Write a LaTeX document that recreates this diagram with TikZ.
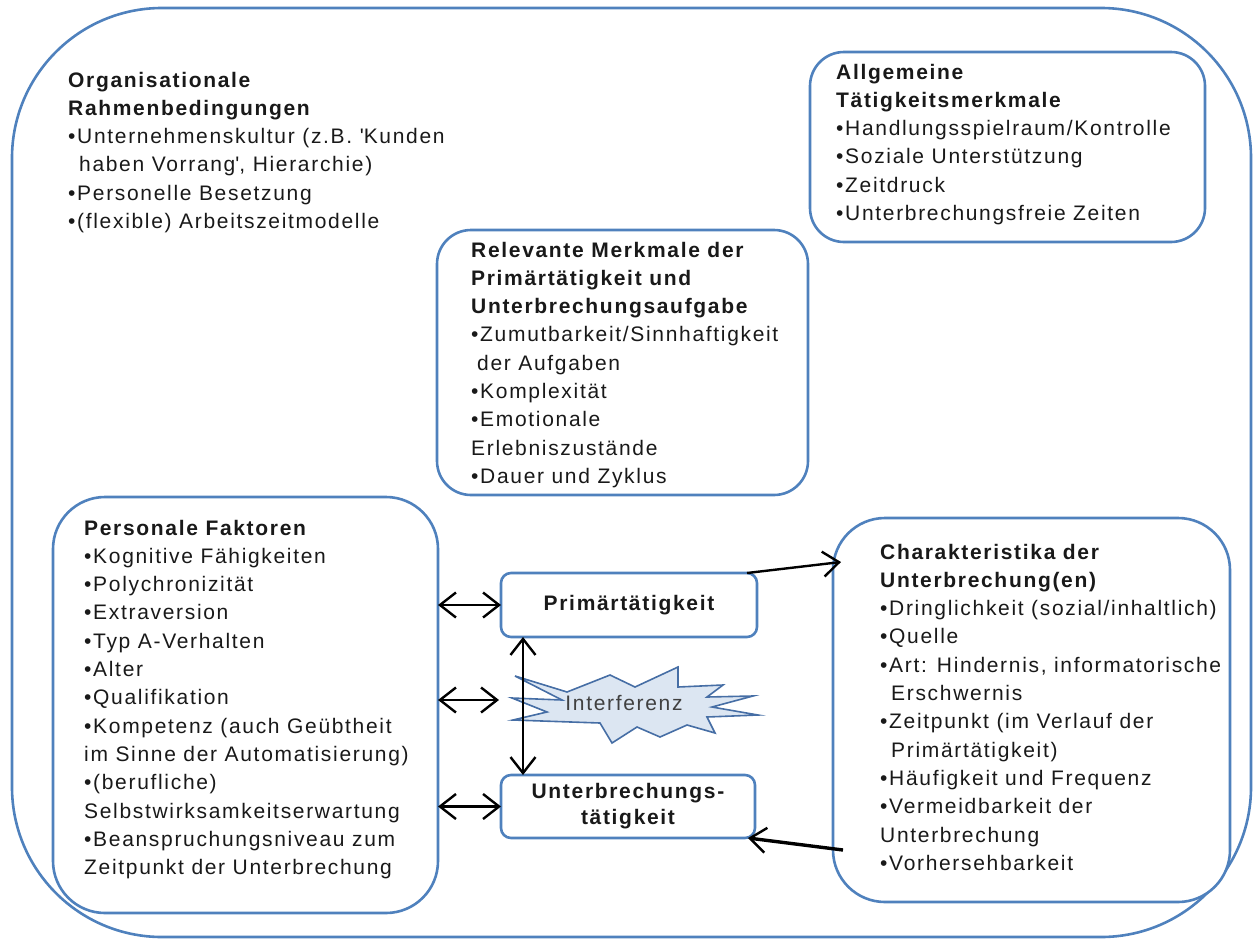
\documentclass[tikz,border=0pt]{standalone}
\usepackage{fontspec}
\setmainfont{Liberation Sans}[LetterSpace=8]
\usetikzlibrary{arrows.meta}
\definecolor{frameblue}{RGB}{79,129,189}
\definecolor{starfill}{RGB}{220,230,242}
\definecolor{starline}{RGB}{70,110,165}
\definecolor{bodytext}{RGB}{25,25,25}
\definecolor{startext}{RGB}{64,64,64}
\newcommand{\indentline}{\hspace*{11pt}}

\begin{document}
\begin{tikzpicture}[x=1pt,y=-1pt,
  frame/.style={draw=frameblue, line width=2.6pt},
  panel/.style={frame, fill=white, rectangle, inner sep=0pt, outer sep=0pt},
  bigpanel/.style={panel, rounded corners=52pt},
  midpanel/.style={panel, rounded corners=34pt},
  actbox/.style={panel, rounded corners=10pt, align=center,
    font=\fontsize{21}{26}\selectfont\bfseries, text=bodytext},
  textblock/.style={anchor=north west, inner sep=0pt, align=left,
    font=\fontsize{21}{28.3}\selectfont, text=bodytext},
  barb/.tip={Straight Barb[length=16pt,width=25pt,line width=2.4pt]},
  link/.style={line width=2.4pt, barb-barb},
  flow/.style={line width=2.4pt, -barb},
  burst/.style={draw=starline, fill=starfill, line width=1.6pt, line join=miter}
]
\useasboundingbox (0,0) rectangle (1258,940);

% outer frame around the whole model
\draw[frame, rounded corners=150pt] (12,8) rectangle (1251,937);

% panels
\node[midpanel, minimum width=395pt, minimum height=190pt] (allg) at (1007.5,147) {};
\node[midpanel, minimum width=371pt, minimum height=265pt] (rel) at (622.5,362.5) {};
\node[bigpanel, minimum width=385pt, minimum height=416pt] (pers) at (245.5,705) {};
\node[bigpanel, minimum width=397pt, minimum height=384pt] (char) at (1031.5,710) {};

% activity boxes
\node[actbox, minimum width=256pt, minimum height=64pt] (prim) at (629,605) {Primärtätigkeit};
\node[actbox, minimum width=254pt, minimum height=63pt] (unt) at (628,806.5) {Unterbrechungs-\\tätigkeit};

% interference burst
\draw[burst] (515,676) -- (567,692) -- (610,675) -- (635,687) -- (678,667) -- (678,687)
  -- (723,685) -- (707,697) -- (753,696) -- (712,707) -- (758,715) -- (707,717)
  -- (715,733) -- (687,725) -- (660,737) -- (637,727) -- (612,743) -- (600,723)
  -- (513,720) -- (547,712) -- (512,698) -- (562,700) -- cycle;
\node[font=\fontsize{21}{26}\selectfont, text=startext, inner sep=0pt] (interf) at (624,703) {Interferenz};

% text blocks
\node[textblock] (orgtext) at (68,67) {\strut\textbf{Organisationale}\\
\textbf{Rahmenbedingungen}\\
•Unternehmenskultur (z.B. \textquotesingle Kunden\\
\indentline haben Vorrang\textquotesingle, Hierarchie)\\
•Personelle Besetzung\\
•(flexible) Arbeitszeitmodelle};

\node[textblock] (allgtext) at (836,59) {\strut\textbf{Allgemeine}\\
\textbf{Tätigkeitsmerkmale}\\
•Handlungsspielraum/Kontrolle\\
•Soziale Unterstützung\\
•Zeitdruck\\
•Unterbrechungsfreie Zeiten};

\node[textblock] (reltext) at (471,237) {\strut\textbf{Relevante Merkmale der}\\
\textbf{Primärtätigkeit und}\\
\textbf{Unterbrechungsaufgabe}\\
•Zumutbarkeit/Sinnhaftigkeit\\
\hspace*{6pt}der Aufgaben\\
•Komplexität\\
•Emotionale\\
Erlebniszustände\\
•Dauer und Zyklus};

\node[textblock] (perstext) at (84,515) {\strut\textbf{Personale Faktoren}\\
•Kognitive Fähigkeiten\\
•Polychronizität\\
•Extraversion\\
•Typ A-Verhalten\\
•Alter\\
•Qualifikation\\
•Kompetenz (auch Geübtheit\\
im Sinne der Automatisierung)\\
•(berufliche)\\
Selbstwirksamkeitserwartung\\
•Beanspruchungsniveau zum\\
Zeitpunkt der Unterbrechung};

\node[textblock] (chartext) at (880,539) {\strut\textbf{Charakteristika der}\\
\textbf{Unterbrechung(en)}\\
•Dringlichkeit (sozial/inhaltlich)\\
•Quelle\\
•Art: Hindernis, informatorische\\
\indentline Erschwernis\\
•Zeitpunkt (im Verlauf der\\
\indentline Primärtätigkeit)\\
•Häufigkeit und Frequenz\\
•Vermeidbarkeit der\\
Unterbrechung\\
•Vorhersehbarkeit};

% connectors
\coordinate (burstin) at (499,700);
\coordinate (charin) at (841,562);
\coordinate (charout) at (843,850);
\draw[link] (pers.east |- prim.west) -- (prim.west);
\draw[link] (pers.east |- burstin) -- (burstin);
\draw[link] (pers.east |- unt.west) -- (unt.west);
\draw[link] ([xshift=22pt]prim.south west) -- ([xshift=22pt]unt.north west);
\draw[flow] ([xshift=-10pt]prim.north east) -- (charin);
\draw[flow, line width=3.4pt] (charout) -- ([xshift=-7pt]unt.south east);
\end{tikzpicture}
\end{document}
